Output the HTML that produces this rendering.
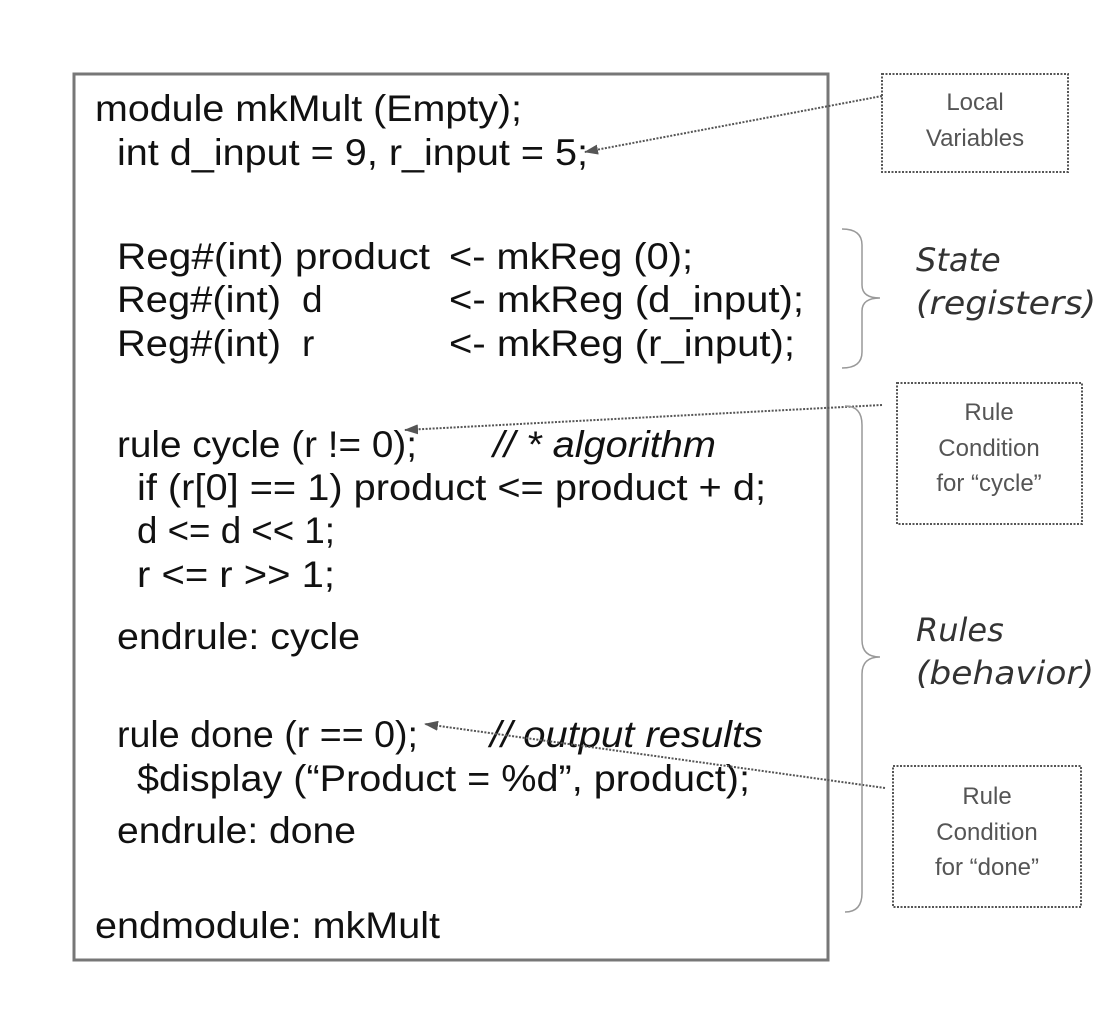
<!DOCTYPE html>
<html><head><meta charset="utf-8"><style>
html,body{margin:0;padding:0;background:#fff;}
svg{display:block}
.c{font-family:"Liberation Sans",Arial,sans-serif;font-size:37px;fill:#111;}
.i{font-style:italic;}
.b{font-family:"Liberation Sans",Arial,sans-serif;font-size:24px;fill:#555;text-anchor:middle;}
.s{font-family:"DejaVu Sans",sans-serif;font-size:32px;font-style:italic;fill:#333;}
</style></head><body>
<svg width="1109" height="1017" viewBox="0 0 1109 1017" xmlns="http://www.w3.org/2000/svg">
<defs><marker id="ah" markerWidth="14" markerHeight="10" refX="13" refY="5" orient="auto" markerUnits="userSpaceOnUse"><path d="M0,0 L14,5 L0,10 Z" fill="#555"/></marker></defs>
<rect x="74" y="74" width="754" height="886" fill="none" stroke="#777" stroke-width="3"/>
<g class="c">
<text x="95" y="121" textLength="427" lengthAdjust="spacingAndGlyphs">module mkMult (Empty);</text>
<text x="117" y="165" textLength="471" lengthAdjust="spacingAndGlyphs">int d_input = 9, r_input = 5;</text>
<text x="117" y="269" textLength="313" lengthAdjust="spacingAndGlyphs">Reg#(int)  product</text><text x="449" y="269" textLength="244" lengthAdjust="spacingAndGlyphs">&lt;- mkReg (0);</text>
<text x="117" y="312" textLength="164" lengthAdjust="spacingAndGlyphs">Reg#(int)</text><text x="302" y="312">d</text><text x="449" y="312" textLength="355" lengthAdjust="spacingAndGlyphs">&lt;- mkReg (d_input);</text>
<text x="117" y="356" textLength="164" lengthAdjust="spacingAndGlyphs">Reg#(int)</text><text x="302" y="356">r</text><text x="449" y="356" textLength="346" lengthAdjust="spacingAndGlyphs">&lt;- mkReg (r_input);</text>
<text x="117" y="457" textLength="300" lengthAdjust="spacingAndGlyphs">rule cycle (r != 0);</text><text x="493" y="457" class="i" textLength="223" lengthAdjust="spacingAndGlyphs">// * algorithm</text>
<text x="137" y="500" textLength="629" lengthAdjust="spacingAndGlyphs">if (r[0] == 1) product &lt;= product + d;</text>
<text x="137" y="543" textLength="198" lengthAdjust="spacingAndGlyphs">d &lt;= d &lt;&lt; 1;</text>
<text x="137" y="587" textLength="198" lengthAdjust="spacingAndGlyphs">r &lt;= r &gt;&gt; 1;</text>
<text x="117" y="649" textLength="243" lengthAdjust="spacingAndGlyphs">endrule: cycle</text>
<text x="117" y="747" textLength="301" lengthAdjust="spacingAndGlyphs">rule done (r == 0);</text><text x="490" y="747" class="i" textLength="273" lengthAdjust="spacingAndGlyphs">// output results</text>
<text x="137" y="791" textLength="613" lengthAdjust="spacingAndGlyphs">$display (“Product = %d”, product);</text>
<text x="117" y="843" textLength="239" lengthAdjust="spacingAndGlyphs">endrule: done</text>
<text x="95" y="938" textLength="345" lengthAdjust="spacingAndGlyphs">endmodule: mkMult</text>
</g>
<g fill="none" stroke="#555" stroke-width="2" stroke-dasharray="2,1.5">
<rect x="882" y="74" width="186" height="98"/>
<rect x="897" y="383" width="185" height="141"/>
<rect x="893" y="766" width="188" height="141"/>
<line x1="882" y1="96" x2="585" y2="152" marker-end="url(#ah)"/>
<line x1="882" y1="405" x2="405" y2="430" marker-end="url(#ah)"/>
<line x1="885" y1="788" x2="425" y2="724" marker-end="url(#ah)"/>
</g>
<g fill="none" stroke="#999" stroke-width="1.5">
<path d="M842,229 Q862,229 862,245 L862,285 Q862,298 880,298 Q862,298 862,311 L862,352 Q862,368 842,368"/>
<path d="M845,406 Q862,406 862,425 L862,640 Q862,657 880,657 Q862,657 862,674 L862,893 Q862,912 845,912"/>
</g>
<g class="b">
<text x="975" y="110">Local</text><text x="975" y="146">Variables</text>
<text x="989" y="420">Rule</text><text x="989" y="456">Condition</text><text x="989" y="491">for “cycle”</text>
<text x="987" y="804">Rule</text><text x="987" y="840">Condition</text><text x="987" y="875">for “done”</text>
</g>
<g class="s">
<text x="916" y="271">State</text><text x="916" y="314" textLength="180" lengthAdjust="spacingAndGlyphs">(registers)</text>
<text x="916" y="641">Rules</text><text x="916" y="684" textLength="178" lengthAdjust="spacingAndGlyphs">(behavior)</text>
</g>
</svg>
</body></html>
